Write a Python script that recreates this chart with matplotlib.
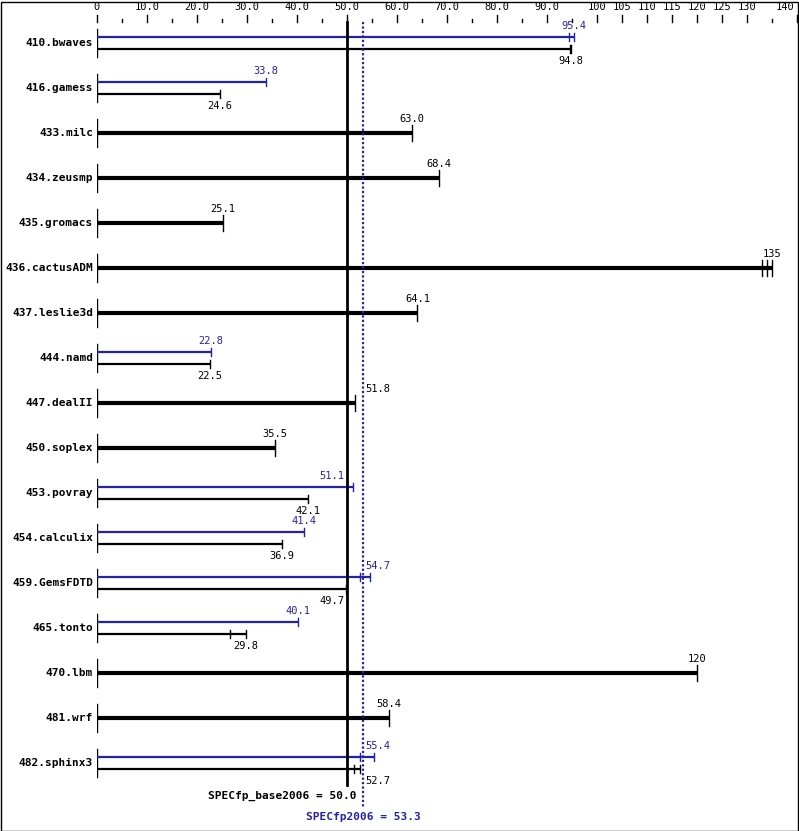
import matplotlib
matplotlib.use('Agg')
import matplotlib.pyplot as plt
from matplotlib.patches import Rectangle

# benchmark data (base = black, peak = blue)
benchmarks = ['410.bwaves', '416.gamess', '433.milc', '434.zeusmp', '435.gromacs',
              '436.cactusADM', '437.leslie3d', '444.namd', '447.dealII', '450.soplex',
              '453.povray', '454.calculix', '459.GemsFDTD', '465.tonto', '470.lbm',
              '481.wrf', '482.sphinx3']
base = [94.8, 24.6, 63.0, 68.4, 25.1, 135, 64.1, 22.5, 51.8, 35.5,
        42.1, 36.9, 49.7, 29.8, 120, 58.4, 52.7]
peak = [95.4, 33.8, None, None, None, None, None, 22.8, None, None,
        51.1, 41.4, 54.7, 40.1, None, None, 55.4]
base_labels = ['94.8', '24.6', '63.0', '68.4', '25.1', '135', '64.1', '22.5', '51.8', '35.5',
               '42.1', '36.9', '49.7', '29.8', '120', '58.4', '52.7']
peak_labels = ['95.4', '33.8', None, None, None, None, None, '22.8', None, None,
               '51.1', '41.4', '54.7', '40.1', None, None, '55.4']
# individual run marks
base_runs = [[94.5, 94.8], [24.6], [63.0], [68.4], [25.1], [133.1, 134.1, 135], [64.1],
             [22.5], [51.7], [35.5], [42.1], [36.9], [49.7], [26.6, 29.8], [120], [58.4],
             [51.4, 52.7]]
peak_runs = [[94.4, 95.4], [33.8], None, None, None, None, None, [22.8], None, None,
             [51.1], [41.4], [52.7, 54.7], [40.1], None, None, [52.7, 55.4]]

base_mean = 50.0
peak_mean = 53.3

tick_vals = [0, 10, 20, 30, 40, 50, 60, 70, 80, 90, 100, 105, 110, 115, 120, 125, 130, 140]
tick_text = ['0', '10.0', '20.0', '30.0', '40.0', '50.0', '60.0', '70.0', '80.0', '90.0',
             '100', '105', '110', '115', '120', '125', '130', '140']
minor_vals = [5, 15, 25, 35, 45, 55, 65, 75, 85, 95, 135]

BLUE = '#2222aa'
W, H = 799, 831
PX = 1 / 45.0  # one pixel in row units

fig = plt.figure(figsize=(W / 100, H / 100), dpi=100)
ax = fig.add_axes([97 / W, 0, 700 / W, 1])
ax.set_xlim(0, 140)
ax.set_ylim((H - 43) / 45.0, -43 / 45.0)
ax.axis('off')

mono = 'DejaVu Sans Mono'

# top axis ticks
for v, t in zip(tick_vals, tick_text):
    ax.plot([v, v], [-28 * PX, -21 * PX], color='black', lw=1, clip_on=False)
    if v == 140:
        # last label sits against the frame
        ax.text(v - 0.6, -36 * PX, t, ha='right', va='center', fontsize=7.5, family=mono)
    else:
        ax.text(v, -36 * PX, t, ha='center', va='center', fontsize=7.5, family=mono)
for v in minor_vals:
    ax.plot([v, v], [-24 * PX, -21 * PX], color='black', lw=1, clip_on=False)


def place_label(val, txt, y, color):
    # keep labels off the two reference lines
    lo, hi = val - 2.6, val + 2.6
    if hi > base_mean - 0.3 and lo < peak_mean + 0.3:
        if val < 51.5:
            ax.text(base_mean - 0.5, y, txt, ha='right', va='center', fontsize=7.5,
                    family=mono, color=color)
        else:
            ax.text(peak_mean + 0.3, y, txt, ha='left', va='center', fontsize=7.5,
                    family=mono, color=color)
    else:
        ax.text(val, y, txt, ha='center', va='center', fontsize=7.5, family=mono, color=color)


for i, name in enumerate(benchmarks):
    ax.text(-0.8, i, name, ha='right', va='center', fontsize=8, family=mono,
            fontweight='bold')
    ax.plot([0, 0], [i - 14 * PX, i + 14 * PX], color='black', lw=1)
    if peak[i] is None:
        ax.plot([0, base[i]], [i, i], color='black', lw=3, solid_capstyle='butt')
        for r in base_runs[i]:
            ax.plot([r, r], [i - 8 * PX, i + 8 * PX], color='black', lw=1)
        place_label(base[i], base_labels[i], i - 14 * PX, 'black')
    else:
        yp = i - 6 * PX
        yb = i + 6 * PX
        ax.plot([0, peak[i]], [yp, yp], color=BLUE, lw=1.6, solid_capstyle='butt')
        for r in peak_runs[i]:
            ax.plot([r, r], [yp - 4 * PX, yp + 4 * PX], color=BLUE, lw=1)
        ax.plot([0, base[i]], [yb, yb], color='black', lw=1.6, solid_capstyle='butt')
        for r in base_runs[i]:
            ax.plot([r, r], [yb - 4 * PX, yb + 4 * PX], color='black', lw=1)
        place_label(peak[i], peak_labels[i], yp - 11 * PX, BLUE)
        place_label(base[i], base_labels[i], yb + 12 * PX, 'black')

# reference lines
ax.plot([base_mean, base_mean], [-21 * PX, 785 / 45.0 - 43 / 45.0], color='black', lw=2,
        clip_on=False)
ax.plot([peak_mean, peak_mean], [-21 * PX, 808 / 45.0 - 43 / 45.0], color=BLUE, lw=1.6,
        linestyle=(0, (1, 1)), clip_on=False)
ax.text(base_mean + 2.0, (796 - 43) / 45.0, 'SPECfp_base2006 = 50.0', ha='right', va='center',
        fontsize=8, family=mono, fontweight='bold')
ax.text(peak_mean, (817 - 43) / 45.0, 'SPECfp2006 = 53.3', ha='center', va='center',
        fontsize=8, family=mono, fontweight='bold', color=BLUE)

# frame
fig.patches.append(Rectangle((0.5 / W, 0.5 / H), (W - 2) / W, (H - 2) / H,
                             transform=fig.transFigure, fill=False, edgecolor='black', lw=1))

fig.savefig('out.png', dpi=100)
